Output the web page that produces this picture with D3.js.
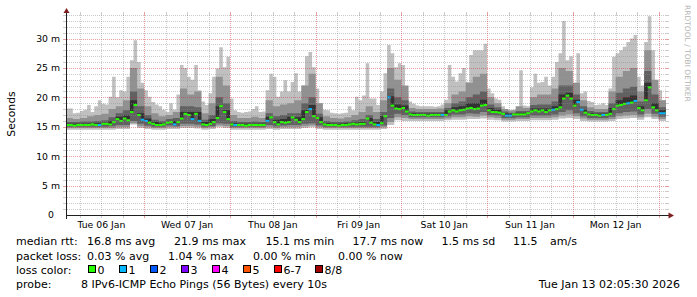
<!DOCTYPE html>
<html>
<head>
<meta charset="utf-8">
<script src="https://cdn.jsdelivr.net/npm/d3@7"></script>
<style>
  body { margin: 0; background: #fff; }
  svg  { display: block; font-family: "DejaVu Sans", sans-serif; }
</style>
</head>
<body>
<svg id="chart" width="697" height="297"></svg>
<script>
/* ── data (ms) ─────────────────────────────────────────── */

// hourly from Tue 06 Jan 02:00 UTC
const medianHourly = [
  15.3,15.3,15.2,15.3,15.3,15.3,15.3,15.4,15.3,15.3,
  15.5,15.5,15.4,15.8,16.3,16.0,16.4,16.1,17.5,18.7,
  17.0,16.2,16.0,15.7,15.5,15.3,15.3,15.4,15.7,15.8,
  15.4,15.8,16.4,17.2,17.0,16.3,17.2,16.0,15.4,15.3,
  15.5,15.8,16.5,18.5,17.5,16.3,15.4,15.3,15.3,15.3,
  15.2,15.3,15.3,15.3,15.3,15.3,16.0,16.6,15.8,15.4,
  15.8,15.7,15.8,16.6,16.2,15.8,16.3,17.5,18.0,16.8,
  16.5,15.8,15.4,15.3,15.3,15.3,15.2,15.3,15.3,15.4,
  15.5,15.4,15.5,15.5,16.4,15.7,15.4,15.3,15.6,16.8,
  20.0,18.6,18.1,18.0,18.2,17.6,17.1,17.0,17.0,17.0,
  17.0,16.9,17.0,17.0,17.0,17.0,17.0,17.6,17.8,17.6,
  17.8,17.9,18.1,18.2,18.0,18.1,18.6,18.7,17.8,17.5,
  17.5,17.4,17.2,16.9,16.9,17.1,17.1,17.1,17.1,17.3,
  17.6,17.8,17.6,17.8,17.5,17.8,17.9,18.0,18.3,19.8,
  20.3,19.8,18.6,19.2,17.9,17.4,17.1,17.0,17.0,16.9,
  17.0,17.0,17.2,18.0,18.6,18.7,18.9,19.0,19.1,19.4,
  18.2,17.8,19.5,21.7,18.3,17.8,17.3,17.3,17.5
];

// lost pings out of 8, hourly
const lossHourly = [
  0,0,0,0,0,0,0,0,0,1, 0,0,0,0,0,0,0,0,0,0,
  0,1,1,0,0,0,0,0,0,0, 1,0,0,0,0,1,0,1,0,0,
  0,0,0,0,0,0,0,1,0,0, 0,0,0,0,0,0,1,0,0,0,
  0,0,0,0,0,0,0,0,1,0, 0,0,0,0,0,0,0,0,0,0,
  0,0,0,0,0,0,0,1,0,0, 1,0,0,0,0,0,0,0,0,0,
  0,0,0,0,0,1,0,0,0,0, 0,0,0,0,0,0,0,0,0,0,
  0,0,0,1,1,0,0,0,0,0, 0,0,0,0,0,0,1,0,0,0,
  0,0,0,1,1,0,0,0,0,0, 1,0,0,0,0,0,0,1,0,1,
  0,0,0,0,0,0,1,1,0
];

// slowest ping, hourly
const maxHourly = [
  18.1,18.1,17.3,17.4,17.7,17.9,18.7,17.5,18.5,19.5,
  18.9,18.8,20.1,23.5,20.0,21.2,21.0,23.5,26.3,29.7,
  26.0,22.5,21.2,20.1,19.2,18.8,18.5,17.9,17.5,19.0,
  17.9,20.5,25.5,25.0,23.5,23.0,25.5,21.2,19.3,18.7,
  20.7,23.5,24.9,28.5,25.1,26.9,19.8,17.8,17.5,17.4,
  17.5,17.6,18.0,18.5,17.5,17.6,21.2,24.0,23.5,20.1,
  21.0,22.9,21.0,22.6,24.1,21.0,22.0,27.0,27.7,25.1,
  21.5,19.0,17.9,17.8,17.4,17.3,17.2,17.3,17.4,18.5,
  17.8,20.1,19.5,20.3,25.8,19.8,19.8,18.7,21.0,24.1,
  28.9,27.5,25.1,25.8,25.5,21.0,19.3,18.9,18.6,18.5,
  18.5,18.5,18.5,18.4,18.5,18.8,19.6,25.5,23.5,22.7,
  24.1,25.0,22.6,27.2,28.0,28.0,28.0,29.1,21.5,20.7,
  19.8,19.6,18.5,17.6,17.5,17.9,18.0,24.6,18.6,18.5,
  21.7,24.0,22.5,22.6,23.5,22.0,23.5,26.0,27.5,33.0,
  26.3,27.0,22.5,27.5,20.7,21.0,19.4,19.2,18.7,18.8,
  19.0,18.7,21.5,26.9,27.5,28.0,28.6,29.4,30.0,30.6,
  23.5,22.0,29.4,33.8,28.0,22.0,21.2,19.5,21.5
];

// 2-hourly: 7th, 6th, 5th ping (upper smoke)
const ping7 = [
  16.5,16.3,16.5,16.8,17.0,17.2,18.0,18.5,19.5,25.0,
  21.5,18.5,17.3,16.8,17.0,17.5,21.5,20.5,21.0,17.3,
  19.0,23.5,22.0,17.0,16.5,16.5,16.7,16.5,19.5,18.5,
  18.8,19.0,19.5,22.0,24.0,19.0,16.8,16.5,16.4,16.6,
  17.0,17.5,18.5,17.5,19.5,25.0,23.0,22.0,18.2,18.0,
  18.0,18.0,18.1,19.0,20.5,21.0,22.5,23.5,24.0,20.0,
  19.0,18.0,17.8,18.5,18.2,20.0,20.5,20.5,21.5,25.0,
  24.5,22.5,19.5,18.3,18.0,18.0,21.0,23.5,24.5,25.0,
  21.0,28.0,23.0,19.5,19.5
];
const ping6 = [
  15.8,15.8,15.9,15.9,16.0,16.1,16.6,17.3,17.8,21.0,
  18.5,17.0,16.2,16.0,16.3,16.5,18.5,18.5,18.3,16.2,
  17.0,20.0,19.0,16.0,15.8,15.8,15.9,15.8,17.3,16.8,
  17.0,17.3,17.3,19.0,20.0,17.2,16.0,15.8,15.8,15.9,
  16.1,16.3,17.0,16.3,17.5,21.5,20.0,19.5,17.6,17.5,
  17.5,17.5,17.5,18.2,19.0,19.3,20.0,20.5,21.0,18.8,
  18.3,17.6,17.4,17.7,17.7,18.7,18.8,18.8,19.3,22.0,
  22.0,20.5,18.5,17.7,17.5,17.5,19.0,20.8,21.5,21.8,
  19.3,24.5,20.5,18.3,18.3
];
const ping5 = [
  15.5,15.5,15.5,15.5,15.6,15.7,16.0,16.7,16.9,19.5,
  17.3,16.4,15.8,15.6,15.9,16.0,17.5,17.5,17.5,15.8,
  16.3,18.5,17.8,15.6,15.5,15.5,15.5,15.5,16.7,16.2,
  16.3,16.7,16.6,17.8,18.7,16.6,15.6,15.5,15.5,15.6,
  15.7,15.8,16.5,15.8,16.8,20.2,18.8,18.6,17.3,17.2,
  17.2,17.2,17.2,17.8,18.3,18.5,19.0,19.0,19.6,18.2,
  17.9,17.3,17.2,17.4,17.4,18.1,18.1,18.1,18.5,20.5,
  20.8,19.6,17.9,17.3,17.2,17.2,18.2,19.5,20.0,20.3,
  18.5,22.5,19.0,17.8,17.9
];

// 2-hourly: 3rd, 2nd, 1st ping (lower smoke)
const ping3 = [
  15.0,15.0,15.0,15.0,15.0,15.0,15.1,15.3,15.3,16.0,
  15.5,15.2,15.0,15.0,15.2,15.1,15.5,15.5,15.4,15.0,
  15.1,15.6,15.5,15.0,15.0,15.0,15.0,15.0,15.3,15.1,
  15.2,15.3,15.3,15.5,15.6,15.2,15.0,15.0,15.0,15.0,
  15.0,15.0,15.0,15.0,15.2,16.5,17.2,17.0,16.6,16.6,
  16.6,16.6,16.6,16.8,17.1,17.1,17.3,17.2,17.5,17.0,
  16.9,16.5,16.5,16.6,16.6,16.9,16.9,16.9,17.1,17.5,
  17.8,17.3,16.8,16.5,16.5,16.5,16.7,17.3,17.5,17.6,
  17.1,18.0,17.2,16.7,16.8
];
const ping2 = [
  14.8,14.8,14.8,14.8,14.8,14.8,14.8,14.9,14.9,15.6,
  15.1,14.9,14.8,14.8,14.9,14.9,15.1,15.1,15.0,14.8,
  14.9,15.2,15.1,14.8,14.8,14.8,14.8,14.8,14.9,14.8,
  14.9,14.9,14.9,15.1,15.2,14.9,14.8,14.8,14.8,14.8,
  14.8,14.8,14.8,14.8,14.9,15.8,16.6,16.5,16.3,16.3,
  16.3,16.3,16.3,16.4,16.6,16.6,16.8,16.7,16.9,16.6,
  16.5,16.2,16.2,16.3,16.3,16.5,16.5,16.5,16.6,16.9,
  17.1,16.8,16.4,16.2,16.2,16.2,16.3,16.8,16.9,17.0,
  16.6,17.2,16.7,16.3,16.4
];
const ping1 = [
  14.5,14.5,14.5,14.5,14.5,14.5,14.5,14.6,14.6,15.4,
  14.8,14.6,14.5,14.5,14.6,14.6,14.8,14.8,14.7,14.5,
  14.6,14.9,14.8,14.5,14.5,14.5,14.5,14.5,14.6,14.5,
  14.6,14.6,14.6,14.8,14.9,14.6,14.5,14.5,14.5,14.5,
  14.5,14.5,14.5,14.5,14.6,15.3,16.1,16.0,16.0,16.0,
  16.0,16.0,16.0,16.1,16.2,16.2,16.3,16.3,16.4,16.2,
  16.1,15.9,15.9,16.0,16.0,16.1,16.1,16.1,16.2,16.4,
  16.5,16.3,16.0,15.9,15.9,15.9,16.0,16.3,16.4,16.5,
  16.2,16.6,16.3,16.0,16.0
];

const yTickValues = [0, 5, 10, 15, 20, 25, 30];
const yTickLabels = ['0', '5 m', '10 m', '15 m', '20 m', '25 m', '30 m'];
const dayLabels   = ['Tue 06 Jan', 'Wed 07 Jan', 'Thu 08 Jan', 'Fri 09 Jan',
                     'Sat 10 Jan', 'Sun 11 Jan', 'Mon 12 Jan'];

const lossNames  = ['0', '1', '2', '3', '4', '5', '6-7', '8/8'];
const lossColors = ['#26ff00', '#00b8ff', '#0059ff', '#7e00ff',
                    '#ff00ff', '#ff5500', '#ff0000', '#a10000'];

/* ── scales ────────────────────────────────────────────── */
const HOUR  = 3600e3;
const T0    = Date.UTC(2026, 0, 6, 2, 5, 30);
const T1    = Date.UTC(2026, 0, 13, 2, 5, 30);
const FIRST = Date.UTC(2026, 0, 6, 2);

const x = d3.scaleUtc().domain([T0, T1]).range([66, 666]);
const y = d3.scaleLinear().domain([0, 34]).range([215, 15]);

const svg = d3.select('#chart');

/* step vertices for a series sampled every `stepH` hours */
function steps(vals, stepH) {
  const pts = [];
  vals.forEach((v, i) => {
    const a = x(FIRST + i * stepH * HOUR);
    const b = x(FIRST + (i + 1) * stepH * HOUR);
    pts.push([a, y(v)], [b, y(v)]);
  });
  return pts;
}

function band(top, topStep, bot, botStep) {
  const pts = steps(top, topStep).concat(steps(bot, botStep).reverse());
  return d3.line()(pts) + 'Z';
}

svg.append('defs').append('clipPath').attr('id', 'plot')
  .append('rect').attr('x', 66).attr('y', 15).attr('width', 600).attr('height', 200);

/* ── smoke ─────────────────────────────────────────────── */
const smoke = svg.append('g').attr('clip-path', 'url(#plot)');

smoke.append('path').attr('d', band(maxHourly, 1, ping1, 2)).attr('fill', '#c0c0c0');
smoke.append('path').attr('d', band(ping7, 2, ping2, 2)).attr('fill', '#919191');
smoke.append('path').attr('d', band(ping6, 2, ping3, 2)).attr('fill', '#616161');
smoke.append('path').attr('d', band(ping5, 2, medianHourly, 1)).attr('fill', '#323232');

/* median, coloured by loss */
smoke.append('g').selectAll('rect')
  .data(medianHourly).join('rect')
  .attr('x', (d, i) => x(FIRST + i * HOUR))
  .attr('width', (d, i) => x(FIRST + (i + 1) * HOUR) - x(FIRST + i * HOUR))
  .attr('y', d => y(d) - 1)
  .attr('height', 2)
  .attr('fill', (d, i) => lossColors[lossHourly[i]]);

/* ── grid (drawn over the data, like rrdtool) ──────────── */
const grid = svg.append('g').attr('stroke-width', 1);
const minorCol = 'rgba(140,140,140,0.45)';
const majorCol = 'rgba(200,40,40,0.45)';
const px = v => Math.round(v) + 0.5;

d3.range(1, 35).forEach(v => {
  const yy = px(y(v));
  const col = v % 5 === 0 ? majorCol : minorCol;
  grid.append('line').attr('x1', 67).attr('x2', 666).attr('y1', yy).attr('y2', yy)
    .attr('stroke', col).attr('stroke-dasharray', '1,1');
  grid.append('line').attr('x1', 63).attr('x2', 66).attr('y1', yy).attr('y2', yy)
    .attr('stroke', col);
  grid.append('line').attr('x1', 666).attr('x2', 669).attr('y1', yy).attr('y2', yy)
    .attr('stroke', col);
});

d3.utcHour.every(6).range(T0, T1).forEach(t => {
  const xx = px(x(t));
  const col = t.getUTCHours() === 0 ? majorCol : minorCol;
  grid.append('line').attr('x1', xx).attr('x2', xx).attr('y1', 15).attr('y2', 214)
    .attr('stroke', col).attr('stroke-dasharray', '1,1');
  grid.append('line').attr('x1', xx).attr('x2', xx).attr('y1', 215).attr('y2', 218)
    .attr('stroke', col);
  grid.append('line').attr('x1', xx).attr('x2', xx).attr('y1', 12).attr('y2', 15)
    .attr('stroke', col);
});

/* ── axes ──────────────────────────────────────────────── */
const axis = svg.append('g');
axis.append('line').attr('x1', 66).attr('x2', 671).attr('y1', 215.5).attr('y2', 215.5)
  .attr('stroke', '#1f1f1f');
axis.append('line').attr('x1', 66.5).attr('x2', 66.5).attr('y1', 219).attr('y2', 11)
  .attr('stroke', '#1f1f1f');
axis.append('path').attr('d', 'M668.5,212.5L674,215.5L668.5,218.5Z').attr('fill', '#7f1f1f');
axis.append('path').attr('d', 'M63.5,13L66.5,8L69.5,13Z').attr('fill', '#7f1f1f');

svg.append('g').selectAll('text')
  .data(yTickValues).join('text')
  .attr('x', (d, i) => i === 0 ? 54 : 60)
  .attr('y', d => y(d) + 3.4)
  .attr('text-anchor', 'end')
  .attr('font-size', 9.3)
  .text((d, i) => yTickLabels[i]);

const noons = d3.utcDay.range(Date.UTC(2026, 0, 6), Date.UTC(2026, 0, 13))
  .map(d => +d + 12 * HOUR);
svg.append('g').selectAll('text')
  .data(noons).join('text')
  .attr('x', d => x(d))
  .attr('y', 227.5)
  .attr('text-anchor', 'middle')
  .attr('font-size', 9.3)
  .text((d, i) => dayLabels[i]);

svg.append('text')
  .attr('transform', 'translate(15,114) rotate(-90)')
  .attr('text-anchor', 'middle')
  .attr('font-size', 10.8)
  .text('Seconds');

svg.append('text')
  .attr('transform', 'translate(685,5) rotate(90)')
  .attr('font-size', 7.5)
  .attr('fill', '#b4b4b4')
  .text('RRDTOOL / TOBI OETIKER');

/* ── legend ────────────────────────────────────────────── */
const legend = svg.append('g').attr('font-size', 11);
const row = (yy, items) => items.forEach(([xx, s]) =>
  legend.append('text').attr('x', xx).attr('y', yy).text(s));

row(245, [[16, 'median rtt:'], [87, '16.8 ms avg'], [174, '21.9 ms max'],
          [265.5, '15.1 ms min'], [352.5, '17.7 ms now'], [441.5, '1.5 ms sd'],
          [513, '11.5'], [550, 'am/s']]);
row(259.5, [[16, 'packet loss:'], [87, '0.03 % avg'], [168, '1.04 % max'],
            [253, '0.00 % min'], [338, '0.00 % now']]);
row(273.5, [[16, 'loss color:']]);
row(288, [[16, 'probe:'], [81, '8 IPv6-ICMP Echo Pings (56 Bytes) every 10s']]);
legend.append('text').attr('x', 680).attr('y', 288).attr('text-anchor', 'end')
  .text('Tue Jan 13 02:05:30 2026');

const swatchX = [88, 119, 150, 181, 212, 243, 274, 315];
lossNames.forEach((name, i) => {
  legend.append('rect')
    .attr('x', swatchX[i] + 0.5).attr('y', 265.5).attr('width', 7).attr('height', 7)
    .attr('fill', lossColors[i]).attr('stroke', '#000');
  legend.append('text').attr('x', swatchX[i] + 9.5).attr('y', 273.5).text(name);
});
</script>
</body>
</html>
